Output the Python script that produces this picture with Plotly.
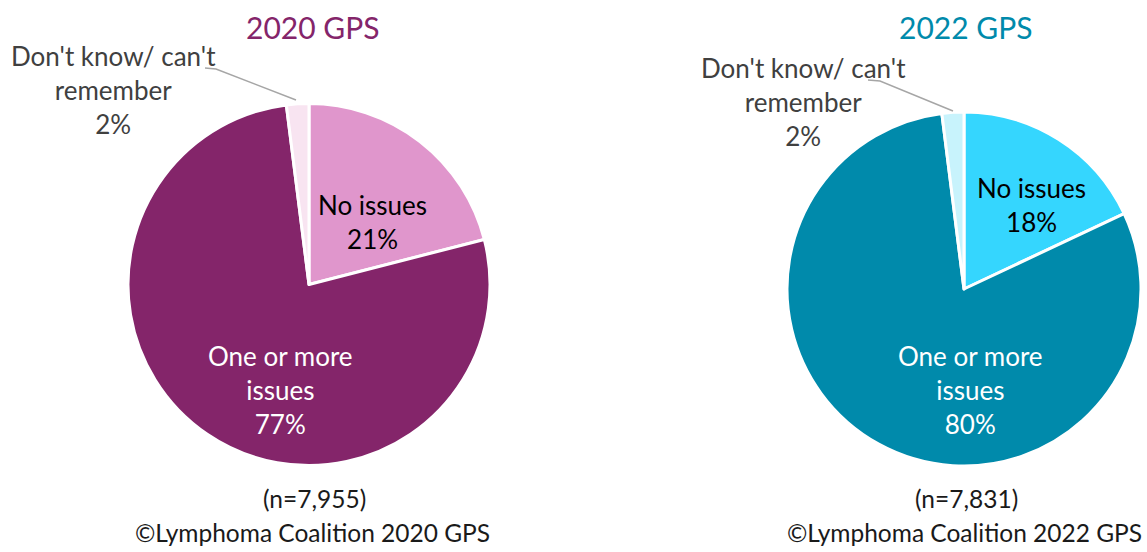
import plotly.graph_objects as go

W, H = 1147, 552

labels = ["No issues", "One or more issues", "Don't know/ can't remember"]
label_text = ["No issues", "One or more<br>issues", "Don't know/ can't<br>remember"]
values_2020 = [21, 77, 2]
values_2022 = [18, 80, 2]
colors_2020 = ["#E096CC", "#84256A", "#F8E4F1"]
colors_2022 = ["#35D6FE", "#008AAB", "#C8F3FC"]
titles = ["2020 GPS", "2022 GPS"]
title_colors = ["#84256A", "#008AAB"]
n_text = ["(n=7,955)", "(n=7,831)"]
source_text = ["©Lymphoma Coalition 2020 GPS", "©Lymphoma Coalition 2022 GPS"]

FONT = "Lato"


def px(x, y):
    return x / W, 1 - y / H


def domain(cx, cy, r):
    return dict(x=[(cx - r) / W, (cx + r) / W], y=[(H - cy - r) / H, (H - cy + r) / H])


fig = go.Figure()
pies = [
    dict(vals=values_2020, cols=colors_2020, cx=309, cy=284.5, r=181),
    dict(vals=values_2022, cols=colors_2022, cx=964, cy=289, r=177),
]
for p in pies:
    fig.add_trace(go.Pie(
        labels=labels, values=p["vals"], sort=False, direction="clockwise", rotation=0,
        marker=dict(colors=p["cols"], line=dict(color="white", width=3)),
        textinfo="none", hoverinfo="label+percent", showlegend=False,
        domain=domain(p["cx"], p["cy"], p["r"]),
    ))

ann = []


def add_text(x, y, text, color, size=26):
    ax, ay = px(x, y)
    ann.append(dict(x=ax, y=ay, xref="paper", yref="paper", text=text, showarrow=False,
                    xanchor="center", yanchor="middle",
                    font=dict(family=FONT, size=size, color=color)))


# label positions (pixel centres) for each pie: no issues, one or more, don't know
label_pos = [
    [(372, 222), (280, 390), (113, 90)],
    [(1031, 205), (970, 390), (803, 102)],
]
inside_colors = ["#000000", "#FFFFFF", "#404040"]
for i, vals in enumerate([values_2020, values_2022]):
    for j in range(3):
        x, y = label_pos[i][j]
        add_text(x, y, "%s<br>%d%%" % (label_text[j], vals[j]), inside_colors[j])

add_text(313, 27, titles[0], title_colors[0], 30)
add_text(966, 27, titles[1], title_colors[1], 30)
add_text(314, 498, n_text[0], "#1a1a1a", 24.5)
add_text(966, 498, n_text[1], "#1a1a1a", 24.5)
add_text(312, 532, source_text[0], "#1a1a1a", 24.5)
add_text(964, 532, source_text[1], "#1a1a1a", 24.5)

# leader lines for the small slices
lines = [
    [(205, 68), (216, 69), (296, 100)],
    [(868, 80), (880, 81), (953, 111)],
]
shapes = []
for pts in lines:
    path = "M " + " L ".join("%f,%f" % px(x, y) for x, y in pts)
    shapes.append(dict(type="path", path=path, xref="paper", yref="paper",
                       line=dict(color="#A6A6A6", width=1.5)))

fig.update_layout(
    width=W, height=H, margin=dict(l=0, r=0, t=0, b=0),
    paper_bgcolor="white", plot_bgcolor="white",
    font=dict(family=FONT),
    annotations=ann, shapes=shapes,
)

fig.write_html("out.html", config={"displayModeBar": False},
               post_script="document.body.style.margin='0px';")
